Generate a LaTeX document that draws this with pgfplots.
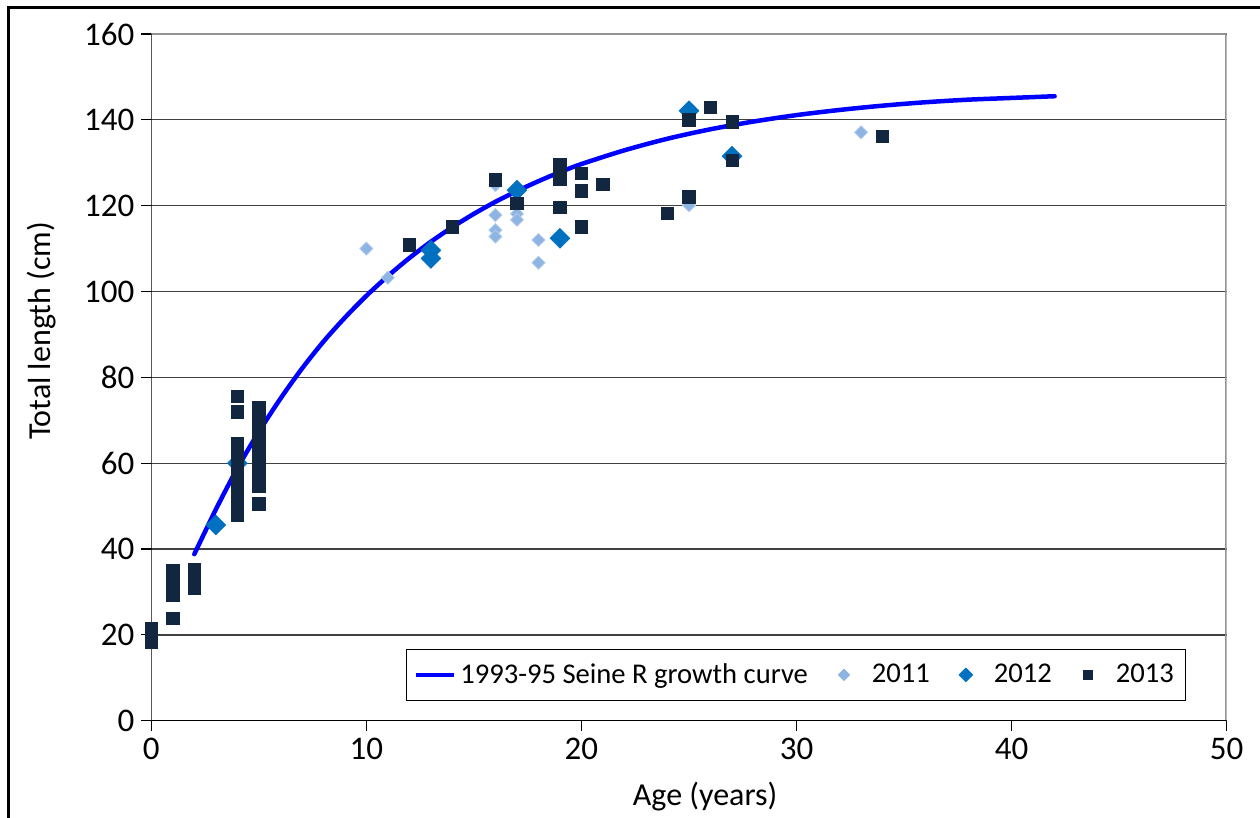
\documentclass[border=0pt]{standalone}
\usepackage{fontspec}
\setmainfont{Carlito}
\usepackage{pgfplots}
\pgfplotsset{compat=1.18}
\definecolor{curveblue}{RGB}{0,0,255}
\definecolor{c2011}{RGB}{142,180,227}
\definecolor{c2012}{RGB}{0,112,192}
\definecolor{c2013}{RGB}{18,38,63}

% legend images for the sample series: a single mark with fixed room around it
\pgfplotsset{
  markleg/.style={legend image code/.code={%
    \path[draw=none, fill=none] (0pt,0pt) -- (28pt,0pt);
    \draw[only marks, #1] plot coordinates {(16pt,0pt)};}},
}

\begin{document}
\begin{tikzpicture}
\path[use as bounding box] (0,0) rectangle (630pt,409pt);
% outer chart frame
\draw[line width=1.5pt] (4pt,0) -- (4pt,405pt) -- (630pt,405pt);
\begin{axis}[
  at={(75.65pt,48.65pt)}, anchor=south west,
  scale only axis, width=537.7pt, height=343.35pt,
  xmin=0, xmax=50, ymin=0, ymax=160,
  xtick={0,10,...,50}, ytick={0,20,...,160},
  axis line style={draw=none},
  xtick pos=bottom, ytick pos=left, tick align=outside,
  major tick length=5pt,
  tick style={black, line width=0.6pt},
  ymajorgrids, grid style={black!75, line width=0.65pt},
  ticklabel style={font=\fontsize{16.5}{19}\selectfont},
  /pgf/number format/assume math mode=true,
  xlabel={Age (years)}, ylabel={Total length (cm)},
  label style={font=\fontsize{16}{19}\selectfont},
  xlabel style={at={(axis description cs:0.515,-0.111)}, anchor=center},
  ylabel style={at={(axis description cs:-0.1016,0.5675)}, anchor=center},
  legend style={at={(axis description cs:0.9626,0.0288)}, anchor=south east,
    draw=black, line width=0.6pt, font=\fontsize{14.3}{17}\selectfont,
    inner ysep=5pt, inner xsep=4pt,
    /tikz/every even column/.append style={column sep=0pt}},
  legend columns=4,
  legend cell align=left,
]
% plot area border
\draw[gray!85, line width=1.3pt] (rel axis cs:0,1) -- (rel axis cs:1,1) -- (rel axis cs:1,0);
\draw[black, line width=1pt] (rel axis cs:0,1) -- (rel axis cs:0,0) -- (rel axis cs:1,0);

% legend entries
\addlegendimage{legend image code/.code={\draw[curveblue, line width=2pt] (0pt,0pt) -- (19pt,0pt);}}
\addlegendentry{1993-95 Seine R growth curve}
\addlegendimage{markleg={mark=square*, mark size=1.9pt, mark options={rotate=45, fill=c2011, draw=c2011}}}
\addlegendentry{2011}
\addlegendimage{markleg={mark=square*, mark size=2.3pt, mark options={rotate=45, fill=c2012, draw=c2012}}}
\addlegendentry{2012}
\addlegendimage{markleg={mark=square*, mark size=2.2pt, mark options={fill=c2013, draw=c2013}}}
\addlegendentry{2013}

% 2011 samples
\addplot[forget plot, only marks, mark=square*, mark size=2.3pt,
  mark options={rotate=45, fill=c2011, draw=c2011!70!white, line width=0.4pt}]
  coordinates {
  (10,110.0) (11,103.2) (16,124.8) (16,117.8) (16,114.3) (16,112.8)
  (17,118.1) (17,116.7) (18,112.0) (18,106.7) (25,120.1) (33,137.1)
  };

% 2012 samples
\addplot[forget plot, only marks, mark=square*, mark size=3.5pt,
  mark options={rotate=45, fill=c2012, draw=c2012, line width=0.3pt}]
  coordinates {
  (3,45.6) (4,60.0) (13,109.6) (13,107.7) (17,123.6) (19,112.4)
  (25,142.1) (27,131.5)
  };

% 2013 samples
\addplot[forget plot, only marks, mark=square*, mark size=3.1pt,
  mark options={fill=c2013, draw=c2013, line width=0.3pt, rounded corners=0.6pt}]
  coordinates {
  (0,18.2) (0,19.5) (0,20.5) (0,21.5)
  (1,23.8) (1,29.2) (1,30.5) (1,32.0) (1,33.5) (1,35.0)
  (2,30.8) (2,32.0) (2,33.5) (2,35.3)
  (4,47.9) (4,49.5) (4,51.0) (4,52.5) (4,54.0) (4,55.5) (4,57.0) (4,58.5)
  (4,60.0) (4,61.5) (4,63.0) (4,64.6) (4,72.0) (4,75.6)
  (5,50.5) (5,54.6) (5,56.0) (5,57.5) (5,59.0) (5,60.5) (5,62.0) (5,63.5)
  (5,65.0) (5,66.5) (5,68.0) (5,69.5) (5,71.0) (5,72.9)
  (12,110.9) (14,115.1) (16,126.0) (17,120.5)
  (19,129.5) (19,126.3) (19,119.6)
  (20,127.5) (20,123.5) (20,115.1) (21,125.0) (24,118.2)
  (25,140.0) (25,122.1) (26,142.9) (27,139.5) (27,130.6) (34,136.1)
  };

% 1993-95 growth curve
\addplot[forget plot, curveblue, line width=2.25pt, smooth, line cap=round]
  coordinates {
  (2,38.8) (3,49.2) (4,58.8) (5,67.3) (6,75.0) (7,82.0) (8,88.3) (9,93.9)
  (10,99.0) (11,103.6) (12,107.8) (13,111.6) (14,115.0) (15,118.1)
  (16,120.9) (17,123.4) (18,125.7) (19,127.8) (20,129.7) (22,132.9)
  (24,135.6) (26,137.8) (28,139.6) (30,141.1) (32,142.3) (34,143.3)
  (36,144.1) (38,144.7) (40,145.1) (42,145.5)
  };
\end{axis}
\end{tikzpicture}
\end{document}
